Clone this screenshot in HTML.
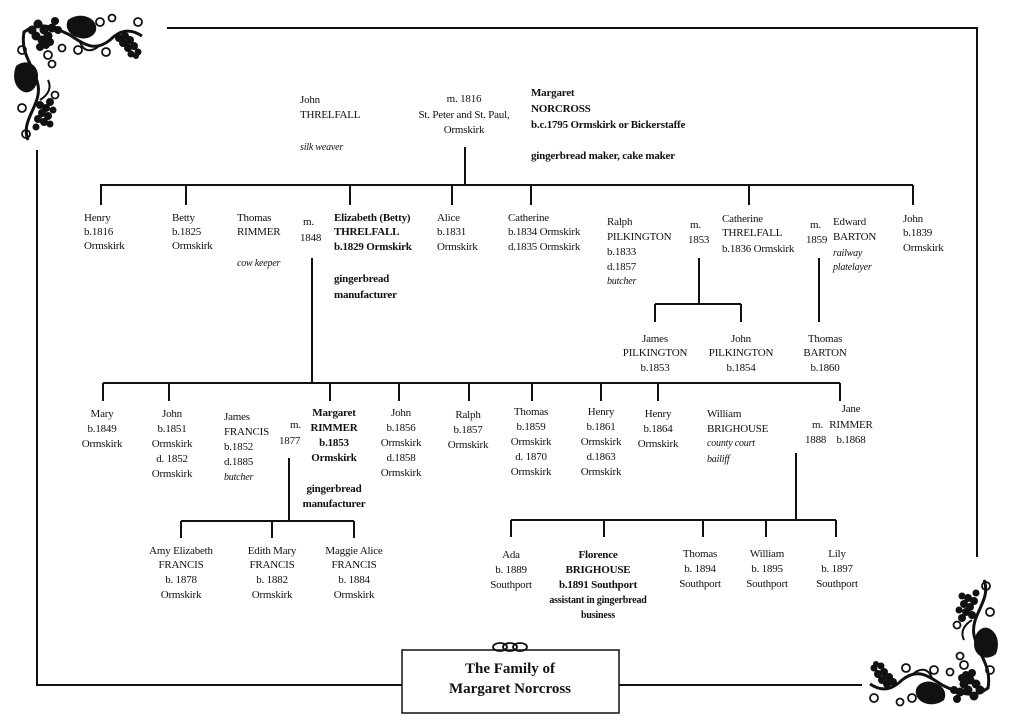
<!DOCTYPE html>
<html><head><meta charset="utf-8"><style>
html,body{margin:0;padding:0;background:#fff;}
svg{display:block;}
text{font-family:"Liberation Serif",serif;font-size:11px;letter-spacing:-0.2px;fill:#111;}
.b{font-weight:bold;}
.i{font-style:italic;font-size:10px;}
.t{font-size:15px;font-weight:bold;letter-spacing:0;}
</style></head><body>
<svg width="1024" height="723" viewBox="0 0 1024 723" xmlns="http://www.w3.org/2000/svg">
<rect width="1024" height="723" fill="#fff"/>
<defs>
<g id="orn" fill="#111" stroke="#111">
<path d="M28 140 C20 120 42 105 38 85 C34 65 20 55 24 32 C40 20 55 28 70 35 C85 45 95 52 110 40 C120 30 130 28 142 36" fill="none" stroke-width="3"/>
<path d="M40 100 C48 95 52 88 48 80 M80 42 C85 55 95 50 100 45 M120 35 C125 45 135 48 140 52" fill="none" stroke-width="2"/>
<g stroke="none">
<circle cx="32" cy="30" r="4.5"/><circle cx="38" cy="24" r="4.5"/><circle cx="44" cy="30" r="4.5"/><circle cx="36" cy="36" r="4.5"/><circle cx="42" cy="40" r="4.5"/><circle cx="48" cy="36" r="4.5"/><circle cx="46" cy="45" r="4"/><circle cx="40" cy="47" r="4"/><circle cx="52" cy="28" r="4.5"/><circle cx="55" cy="21" r="4"/><circle cx="50" cy="42" r="4"/><circle cx="58" cy="30" r="4"/>
<circle cx="125" cy="36" r="4"/><circle cx="130" cy="40" r="4"/><circle cx="123" cy="43" r="4"/><circle cx="128" cy="48" r="4"/><circle cx="134" cy="46" r="4"/><circle cx="138" cy="52" r="3.5"/><circle cx="131" cy="54" r="3.5"/><circle cx="119" cy="38" r="4"/><circle cx="136" cy="56" r="3"/>
<path d="M68 20 C78 12 94 16 96 26 C98 36 86 40 80 38 C70 36 64 28 68 20Z"/>
<path d="M16 66 C26 58 38 64 38 76 C38 88 30 94 24 92 C14 88 12 76 16 66Z"/>
<circle cx="40" cy="105" r="4"/><circle cx="46" cy="108" r="4"/><circle cx="42" cy="113" r="4"/><circle cx="48" cy="116" r="4"/><circle cx="38" cy="119" r="4"/><circle cx="44" cy="122" r="4"/><circle cx="50" cy="102" r="4"/><circle cx="36" cy="127" r="3.5"/><circle cx="53" cy="110" r="3.5"/><circle cx="50" cy="124" r="3.5"/>
</g>
<g fill="none" stroke-width="1.8">
<circle cx="22" cy="50" r="4"/><circle cx="48" cy="55" r="4"/><circle cx="52" cy="64" r="3.5"/><circle cx="22" cy="108" r="4"/><circle cx="26" cy="134" r="4"/><circle cx="55" cy="95" r="3.5"/><circle cx="100" cy="22" r="4"/><circle cx="106" cy="52" r="4"/><circle cx="138" cy="22" r="4"/><circle cx="62" cy="48" r="3.5"/><circle cx="78" cy="50" r="4"/><circle cx="112" cy="18" r="3.5"/>
</g>
</g>
</defs>
<use href="#orn"/>
<use href="#orn" transform="translate(1012,720) rotate(180)"/>
<g stroke="#111" stroke-width="2" fill="none">
<path d="M167 28 H977 V557"/>
<path d="M37 150 V685 H402"/>
<path d="M619 685 H862"/>
<rect x="402" y="650" width="217" height="63" stroke-width="1.5"/>
<path d="M465 147 V185 M100 185 H913"/>
<path d="M101 185 V205 M186 185 V205 M350 185 V205 M452 185 V205 M531 185 V205 M749 185 V205 M913 185 V205"/>
<path d="M312 258 V383 M699 258 V304 M655 304 H741 M655 304 V322 M741 304 V322 M819 258 V322"/>
<path d="M103 383 H840 M103 383 V401 M169 383 V401 M330 383 V401 M399 383 V401 M469 383 V401 M532 383 V401 M601 383 V401 M658 383 V401 M840 383 V401"/>
<path d="M289 458 V521 M181 521 H354 M181 521 V538 M272 521 V538 M354 521 V538"/>
<path d="M796 453 V520 M511 520 H836 M511 520 V537 M604 520 V537 M703 520 V537 M766 520 V537 M836 520 V537"/>
</g>
<g fill="none" stroke="#111" stroke-width="1.8">
<ellipse cx="500" cy="647" rx="7" ry="4"/><ellipse cx="510" cy="647" rx="7" ry="4"/><ellipse cx="520" cy="647" rx="7" ry="4"/>
</g>
<text class="t" x="510" y="673" text-anchor="middle">The Family of</text>
<text class="t" x="510" y="693" text-anchor="middle">Margaret Norcross</text>

<text x="300" y="103">John</text><text x="300" y="118">THRELFALL</text><text class="i" x="300" y="150">silk weaver</text>
<g text-anchor="middle"><text x="464" y="102">m. 1816</text><text x="464" y="118">St. Peter and St. Paul,</text><text x="464" y="133">Ormskirk</text></g>
<text class="b" x="531" y="96">Margaret</text><text class="b" x="531" y="112">NORCROSS</text><text class="b" x="531" y="128">b.c.1795 Ormskirk or Bickerstaffe</text><text class="b" x="531" y="159">gingerbread maker, cake maker</text>

<text x="84" y="221">Henry</text><text x="84" y="235">b.1816</text><text x="84" y="249">Ormskirk</text>
<text x="172" y="221">Betty</text><text x="172" y="235">b.1825</text><text x="172" y="249">Ormskirk</text>
<text x="237" y="221">Thomas</text><text x="237" y="235">RIMMER</text><text class="i" x="237" y="266">cow keeper</text>
<text x="303" y="225">m.</text><text x="300" y="241">1848</text>
<text class="b" x="334" y="221">Elizabeth (Betty)</text><text class="b" x="334" y="235">THRELFALL</text><text class="b" x="334" y="250">b.1829 Ormskirk</text><text class="b" x="334" y="282">gingerbread</text><text class="b" x="334" y="298">manufacturer</text>
<text x="437" y="221">Alice</text><text x="437" y="235">b.1831</text><text x="437" y="250">Ormskirk</text>
<text x="508" y="221">Catherine</text><text x="508" y="235">b.1834 Ormskirk</text><text x="508" y="250">d.1835 Ormskirk</text>
<text x="607" y="225">Ralph</text><text x="607" y="240">PILKINGTON</text><text x="607" y="255">b.1833</text><text x="607" y="270">d.1857</text><text class="i" x="607" y="284">butcher</text>
<text x="690" y="228">m.</text><text x="688" y="243">1853</text>
<text x="722" y="222">Catherine</text><text x="722" y="236">THRELFALL</text><text x="722" y="252">b.1836 Ormskirk</text>
<text x="810" y="228">m.</text><text x="806" y="243">1859</text>
<text x="833" y="225">Edward</text><text x="833" y="240">BARTON</text><text class="i" x="833" y="256">railway</text><text class="i" x="833" y="270">platelayer</text>
<text x="903" y="222">John</text><text x="903" y="236">b.1839</text><text x="903" y="251">Ormskirk</text>

<g text-anchor="middle">
<text x="655" y="342">James</text><text x="655" y="356">PILKINGTON</text><text x="655" y="371">b.1853</text>
<text x="741" y="342">John</text><text x="741" y="356">PILKINGTON</text><text x="741" y="371">b.1854</text>
<text x="825" y="342">Thomas</text><text x="825" y="356">BARTON</text><text x="825" y="371">b.1860</text>

<text x="102" y="417">Mary</text><text x="102" y="432">b.1849</text><text x="102" y="447">Ormskirk</text>
<text x="172" y="417">John</text><text x="172" y="432">b.1851</text><text x="172" y="447">Ormskirk</text><text x="172" y="462">d. 1852</text><text x="172" y="477">Ormskirk</text>
<text class="b" x="334" y="416">Margaret</text><text class="b" x="334" y="431">RIMMER</text><text class="b" x="334" y="446">b.1853</text><text class="b" x="334" y="461">Ormskirk</text>
<text class="b" x="334" y="492">gingerbread</text><text class="b" x="334" y="507">manufacturer</text>
<text x="401" y="416">John</text><text x="401" y="431">b.1856</text><text x="401" y="446">Ormskirk</text><text x="401" y="461">d.1858</text><text x="401" y="476">Ormskirk</text>
<text x="468" y="418">Ralph</text><text x="468" y="433">b.1857</text><text x="468" y="448">Ormskirk</text>
<text x="531" y="415">Thomas</text><text x="531" y="430">b.1859</text><text x="531" y="445">Ormskirk</text><text x="531" y="460">d. 1870</text><text x="531" y="475">Ormskirk</text>
<text x="601" y="415">Henry</text><text x="601" y="430">b.1861</text><text x="601" y="445">Ormskirk</text><text x="601" y="460">d.1863</text><text x="601" y="475">Ormskirk</text>
<text x="658" y="417">Henry</text><text x="658" y="432">b.1864</text><text x="658" y="447">Ormskirk</text>
<text x="851" y="412">Jane</text><text x="851" y="428">RIMMER</text><text x="851" y="443">b.1868</text>

<text x="181" y="554">Amy Elizabeth</text><text x="181" y="568">FRANCIS</text><text x="181" y="583">b. 1878</text><text x="181" y="598">Ormskirk</text>
<text x="272" y="554">Edith Mary</text><text x="272" y="568">FRANCIS</text><text x="272" y="583">b. 1882</text><text x="272" y="598">Ormskirk</text>
<text x="354" y="554">Maggie Alice</text><text x="354" y="568">FRANCIS</text><text x="354" y="583">b. 1884</text><text x="354" y="598">Ormskirk</text>

<text x="511" y="558">Ada</text><text x="511" y="573">b. 1889</text><text x="511" y="588">Southport</text>
<text class="b" x="598" y="558">Florence</text><text class="b" x="598" y="573">BRIGHOUSE</text><text class="b" x="598" y="588">b.1891 Southport</text><text class="b" x="598" y="603" style="font-size:10px">assistant in gingerbread</text><text class="b" x="598" y="618" style="font-size:10px">business</text>
<text x="700" y="557">Thomas</text><text x="700" y="572">b. 1894</text><text x="700" y="587">Southport</text>
<text x="767" y="557">William</text><text x="767" y="572">b. 1895</text><text x="767" y="587">Southport</text>
<text x="837" y="557">Lily</text><text x="837" y="572">b. 1897</text><text x="837" y="587">Southport</text>
</g>
<text x="224" y="420">James</text><text x="224" y="435">FRANCIS</text><text x="224" y="450">b.1852</text><text x="224" y="465">d.1885</text><text class="i" x="224" y="480">butcher</text>
<text x="290" y="428">m.</text><text x="279" y="444">1877</text>
<text x="707" y="417">William</text><text x="707" y="432">BRIGHOUSE</text><text class="i" x="707" y="446">county court</text><text class="i" x="707" y="462">bailiff</text>
<text x="812" y="428">m.</text><text x="805" y="443">1888</text>
</svg>
</body></html>
